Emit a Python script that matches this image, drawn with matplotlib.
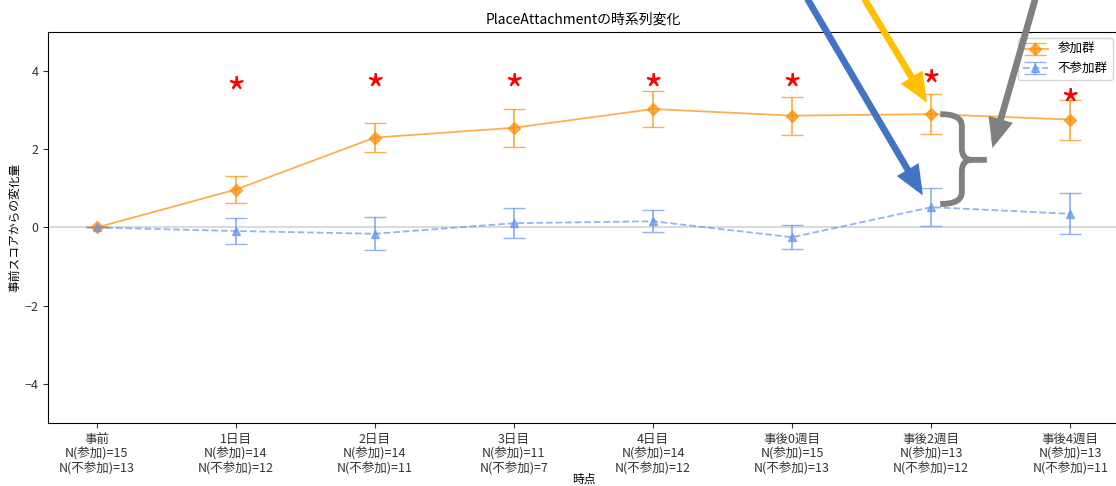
import numpy as np
import matplotlib.pyplot as plt
from matplotlib.path import Path
from matplotlib.patches import PathPatch

plt.rcParams['font.family'] = ['Noto Sans CJK JP', 'DejaVu Sans']

timepoints = ['事前', '1日目', '2日目', '3日目', '4日目', '事後0週目', '事後2週目', '事後4週目']
n_join = [15, 14, 14, 11, 14, 15, 13, 13]
n_nonjoin = [13, 12, 11, 7, 12, 13, 12, 11]

join_mean = [0.0, 0.97, 2.30, 2.55, 3.03, 2.86, 2.90, 2.76]
join_err = [0.0, 0.34, 0.38, 0.49, 0.45, 0.49, 0.51, 0.51]
nonjoin_mean = [0.0, -0.09, -0.16, 0.11, 0.16, -0.25, 0.52, 0.35]
nonjoin_err = [0.0, 0.34, 0.42, 0.39, 0.28, 0.31, 0.49, 0.52]

# significance marks (index, y)
sig_idx = [1, 2, 3, 4, 5, 6, 7]
sig_y = [3.70, 3.79, 3.79, 3.79, 3.79, 3.88, 3.41]

x = np.arange(len(timepoints))
tick_labels = [f'{t}\nN(参加)={a}\nN(不参加)={b}' for t, a, b in zip(timepoints, n_join, n_nonjoin)]

fig = plt.figure(figsize=(11.16, 4.86), dpi=100)
ax = fig.add_axes([48 / 1116, 63 / 486, (1119 - 48) / 1116, (423 - 32) / 486])

ax.axhline(0, color='lightgray', lw=1.5, alpha=0.8, zorder=0)

ax.errorbar(x, join_mean, yerr=join_err, fmt='-D', color='darkorange', alpha=0.7,
            markersize=6, capsize=8, lw=1.3, elinewidth=1.3, label='参加群')
ax.errorbar(x, nonjoin_mean, yerr=nonjoin_err, fmt='--^', color='cornflowerblue', alpha=0.7,
            markersize=6, capsize=8, lw=1.3, elinewidth=1.3, label='不参加群')

# the glyph sits high in its box, so drop the anchor a little
for i, yy in zip(sig_idx, sig_y):
    ax.text(x[i], yy - 0.35, '*', ha='center', va='center', fontsize=30, color='red')

ax.set_xlim(-0.35, 7.35)
ax.set_ylim(-5, 5)
ax.set_yticks([-4, -2, 0, 2, 4])
ax.set_xticks(x)
ax.set_xticklabels(tick_labels, fontsize=9, linespacing=1.15)
ax.tick_params(axis='y', labelsize=9, colors='#333333')
ax.tick_params(axis='x', colors='#333333')
ax.set_title('PlaceAttachmentの時系列変化', fontsize=10)
ax.set_xlabel('時点', fontsize=8.5, labelpad=-2)
ax.set_ylabel('事前スコアからの変化量', fontsize=8.5, labelpad=2)
ax.legend(loc='upper right', fontsize=9)

# brace between the two groups at 事後2週目
k = 6
yt, yb = join_mean[k], nonjoin_mean[k] + 0.08
ym = (yt + yb) / 2 - 0.02
x0, x1, x2 = x[k] + 0.065, x[k] + 0.22, x[k] + 0.40
r, dx = 0.3, 0.07
verts = [(x0, yt), (x1, yt), (x1, yt - r), (x1, ym + r), (x1, ym), (x1 + dx, ym), (x2, ym),
         (x1 + dx, ym), (x1, ym), (x1, ym - r), (x1, yb + r), (x1, yb), (x0, yb)]
codes = [Path.MOVETO, Path.CURVE3, Path.CURVE3, Path.LINETO, Path.CURVE3, Path.CURVE3, Path.LINETO,
         Path.MOVETO, Path.CURVE3, Path.CURVE3, Path.LINETO, Path.CURVE3, Path.CURVE3]
ax.add_patch(PathPatch(Path(verts, codes), fill=False, edgecolor='#808080', lw=4.2,
                       capstyle='butt', joinstyle='round', zorder=5))

# callout arrows
arrow_style = '-|>,head_length=1.3,head_width=0.55'
ax.annotate('', xy=(5.94, 0.82), xycoords='data', xytext=(808 / 1116, 1.0), textcoords='figure fraction',
            arrowprops=dict(arrowstyle=arrow_style, color='#4472C4', lw=4.8, shrinkA=0, shrinkB=0,
                            joinstyle='miter'),
            annotation_clip=False, zorder=6)
ax.annotate('', xy=(5.97, 3.19), xycoords='data', xytext=(865 / 1116, 1.0), textcoords='figure fraction',
            arrowprops=dict(arrowstyle=arrow_style, color='#FFC000', lw=4.8, shrinkA=0, shrinkB=0,
                            joinstyle='miter'),
            annotation_clip=False, zorder=6)
ax.annotate('', xy=(6.44, 2.03), xycoords='data', xytext=(1035 / 1116, 1.0), textcoords='figure fraction',
            arrowprops=dict(arrowstyle=arrow_style, color='#808080', lw=4.8, shrinkA=0, shrinkB=0,
                            joinstyle='miter'),
            annotation_clip=False, zorder=6)

fig.savefig('out.png', dpi=100)
